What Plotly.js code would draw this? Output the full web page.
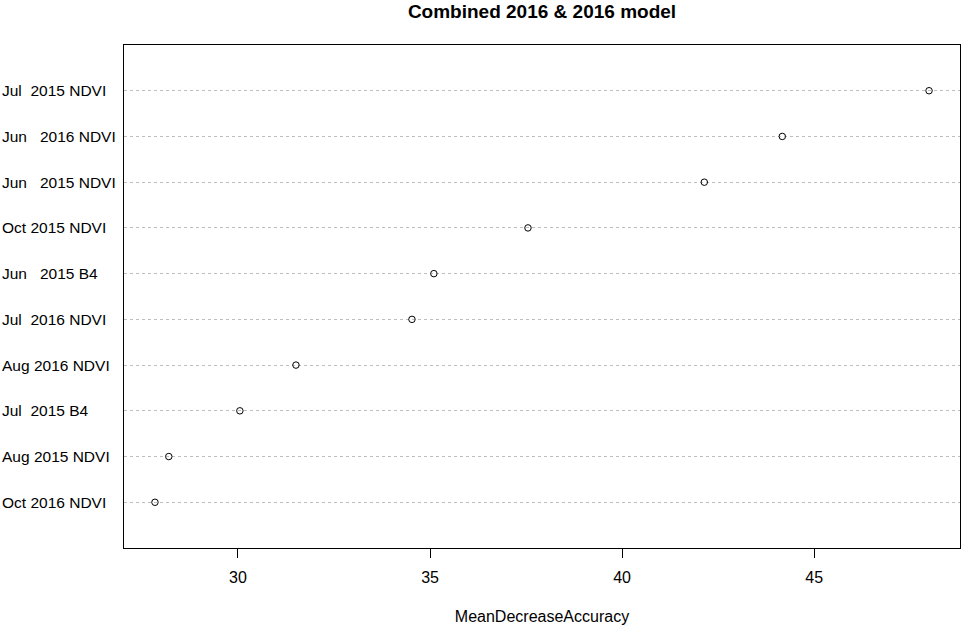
<!DOCTYPE html>
<html>
<head>
<meta charset="utf-8">
<script src="https://cdn.plot.ly/plotly-3.0.1.min.js"></script>
<style>html,body{margin:0;padding:0;background:#fff;}#chart{width:961px;height:625px;}</style>
</head>
<body>
<div id="chart"></div>
<script>
// Data (top to bottom as shown)
const labels = ["Jul  2015 NDVI", "Jun   2016 NDVI", "Jun   2015 NDVI", "Oct 2015 NDVI", "Jun   2015 B4",
                "Jul  2016 NDVI", "Aug 2016 NDVI", "Jul  2015 B4", "Aug 2015 NDVI", "Oct 2016 NDVI"];
const values = [47.99, 44.17, 42.14, 37.55, 35.10, 34.53, 31.51, 30.05, 28.20, 27.84];
const xTicks = [30, 35, 40, 45];
const titleText = "Combined 2016 & 2016 model";
const xTitle = "MeanDecreaseAccuracy";

const n = labels.length;
const pos = labels.map((_, i) => n - i);   // 10 at top, 1 at bottom

const vmin = Math.min(...values), vmax = Math.max(...values);
const pad = (vmax - vmin) * 0.04;
const FONT = "Liberation Sans, Arial, sans-serif";

const trace = {
  type: "scatter",
  mode: "markers",
  x: values,
  y: pos,
  marker: {symbol: "circle-open", size: 6.5, color: "#000", line: {width: 1, color: "#000"}},
  hoverinfo: "x+text",
  text: labels,
  cliponaxis: false
};

const annotations = labels.map((lab, i) => ({
  xref: "paper", yref: "y",
  x: (0 - 124) / 836, y: pos[i],
  xanchor: "left", yanchor: "middle",
  text: lab.replace(/ /g, "\u00a0"),
  showarrow: false,
  font: {family: FONT, size: 15.5, color: "#000"}
}));

const layout = {
  width: 961, height: 625,
  margin: {l: 124, r: 1, t: 45, b: 77, pad: 0},
  paper_bgcolor: "#fff", plot_bgcolor: "#fff",
  showlegend: false,
  title: {
    text: "<b>" + titleText + "</b>",
    font: {family: FONT, size: 19, color: "#000"},
    x: 542 / 961, xanchor: "center",
    y: 1 - 11 / 625, yanchor: "middle", yref: "container"
  },
  xaxis: {
    range: [vmin - pad, vmax + pad],
    tickvals: xTicks,
    ticktext: xTicks.map(String),
    ticks: "outside", ticklen: 9, tickwidth: 1, tickcolor: "#000",
    ticklabelstandoff: 6,
    showgrid: false, zeroline: false,
    showline: true, mirror: true, linecolor: "#000", linewidth: 1,
    tickfont: {family: FONT, size: 16, color: "#000"},
    title: {text: xTitle, font: {family: FONT, size: 16, color: "#000"}, standoff: 25},
    automargin: false
  },
  yaxis: {
    range: [0, n + 1],
    tickvals: pos,
    showticklabels: false,
    ticks: "",
    showgrid: true, gridcolor: "#bebebe", gridwidth: 1, griddash: "dot",
    zeroline: false,
    showline: true, mirror: true, linecolor: "#000", linewidth: 1,
    automargin: false
  },
  annotations: annotations
};

Plotly.newPlot("chart", [trace], layout, {displayModeBar: false, staticPlot: true});
</script>
</body>
</html>
